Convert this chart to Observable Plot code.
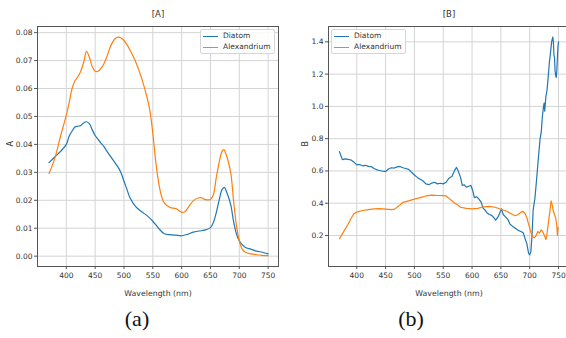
<!DOCTYPE html>
<html><head><meta charset="utf-8">
<script src="https://cdn.jsdelivr.net/npm/d3@7"></script>
<script src="https://cdn.jsdelivr.net/npm/@observablehq/plot@0.6"></script>
<style>
html,body{margin:0;padding:0;background:#fff;}
#wrap{position:relative;width:566px;height:338px;overflow:hidden;background:#fff;font-family:"DejaVu Sans",sans-serif;}
.panel{position:absolute;top:0;height:300px;overflow:hidden;}
.legend{position:absolute;border:1px solid #d6d6d6;border-radius:2px;background:rgba(255,255,255,0.85);font-size:7.5px;color:#333;box-sizing:border-box;}
.legend .row{position:absolute;left:0;height:10px;line-height:10px;white-space:nowrap;}
.legend .sw{position:absolute;left:2px;top:5px;width:15px;border-top:1.5px solid;}
.legend .lab{position:absolute;left:22px;top:0;}
.cap{position:absolute;top:308px;font-family:"Liberation Serif",serif;font-size:22px;line-height:1;color:#111;transform:translateX(-50%);}
</style></head>
<body>
<div id="wrap">
  <div id="pa" class="panel" style="left:0;width:283px"></div>
  <div id="pb" class="panel" style="left:283px;width:286px"></div>
  <div class="legend" style="left:200px;top:29px;width:75px;height:25px">
    <div class="row" style="top:1px"><span class="sw" style="border-color:#1f77b4"></span><span class="lab">Diatom</span></div>
    <div class="row" style="top:12px"><span class="sw" style="border-color:#ff7f0e"></span><span class="lab">Alexandrium</span></div>
  </div>
  <div class="legend" style="left:331px;top:29px;width:75px;height:25px">
    <div class="row" style="top:1px"><span class="sw" style="border-color:#1f77b4"></span><span class="lab">Diatom</span></div>
    <div class="row" style="top:12px"><span class="sw" style="border-color:#ff7f0e"></span><span class="lab">Alexandrium</span></div>
  </div>
  <div class="cap" style="left:137px">(a)</div>
  <div class="cap" style="left:411px">(b)</div>
</div>
<script>
// ---- Data ----
const xTicks = [400, 450, 500, 550, 600, 650, 700, 750];
const yTicksA = [0, 0.01, 0.02, 0.03, 0.04, 0.05, 0.06, 0.07, 0.08];
const yTicksB = [0.2, 0.4, 0.6, 0.8, 1.0, 1.2, 1.4];

const wlDiatomA = [370,380,390,400,405,410,415,420,425,430,435,440,445,450,455,460,465,470,480,490,495,500,505,510,520,530,540,550,560,570,580,590,600,610,620,630,640,650,655,660,665,670,674,678,685,690,695,700,710,720,730,740,750];
const diatomA = [0.0335,0.0355,0.0375,0.0400,0.0430,0.0448,0.0462,0.0465,0.0468,0.0477,0.0481,0.0474,0.0452,0.0432,0.0418,0.0405,0.0393,0.0377,0.0347,0.0318,0.0298,0.0268,0.0240,0.0211,0.0178,0.0160,0.0145,0.0125,0.0100,0.0080,0.0077,0.0075,0.0073,0.0078,0.0086,0.0090,0.0093,0.0102,0.0120,0.0155,0.0200,0.0238,0.0246,0.0230,0.0185,0.0125,0.0080,0.0055,0.0032,0.0025,0.0018,0.0014,0.0008];

const wlAlexA = [370,380,390,400,405,410,415,420,425,430,435,440,445,450,455,460,465,470,475,480,485,490,495,500,505,510,520,530,540,545,550,555,560,565,570,580,590,600,605,610,620,630,635,640,650,655,660,665,670,673,677,685,690,695,700,705,710,720,730,740,750];
const alexA = [0.0296,0.0350,0.0430,0.0505,0.0550,0.0600,0.0628,0.0642,0.0662,0.0693,0.0733,0.0712,0.0678,0.0662,0.0662,0.0672,0.0688,0.0712,0.0742,0.0765,0.0779,0.0784,0.0781,0.0772,0.0758,0.0739,0.0697,0.0641,0.0568,0.0520,0.0440,0.0340,0.0265,0.0215,0.0190,0.0174,0.0170,0.0157,0.0158,0.0170,0.0198,0.0209,0.0209,0.0203,0.0203,0.0220,0.0280,0.0335,0.0375,0.0381,0.0365,0.0300,0.0200,0.0110,0.0055,0.0025,0.0015,0.0008,0.0005,0.0003,0.0002];

const wlDiatomB = [370,372,375,380,385,390,395,400,405,410,415,420,425,430,435,440,445,450,455,460,465,470,475,480,485,490,495,500,505,510,515,520,525,530,535,540,545,550,555,560,565,570,573,576,580,583,586,590,594,598,601,604,608,612,616,619,622,626,630,634,638,641,645,648,651,654,658,662,666,670,675,680,685,689,692,695,698,700,702,704,706,709,712,715,718,720,722,724,725,726,728,730,732,734,736,738,740,741,742,743,744,745,746,747,748,749,750];
const diatomB = [0.72,0.70,0.67,0.675,0.672,0.668,0.655,0.638,0.64,0.632,0.635,0.628,0.627,0.615,0.607,0.603,0.598,0.597,0.612,0.62,0.618,0.625,0.628,0.62,0.615,0.61,0.592,0.575,0.56,0.548,0.538,0.52,0.515,0.525,0.53,0.52,0.524,0.52,0.53,0.555,0.565,0.605,0.622,0.60,0.56,0.51,0.515,0.50,0.505,0.51,0.48,0.435,0.44,0.425,0.405,0.37,0.36,0.34,0.33,0.325,0.31,0.295,0.315,0.34,0.365,0.33,0.315,0.30,0.27,0.258,0.245,0.232,0.225,0.215,0.18,0.15,0.09,0.08,0.10,0.20,0.36,0.43,0.55,0.68,0.80,0.84,0.94,1.00,1.02,0.97,1.06,1.10,1.18,1.27,1.33,1.40,1.43,1.40,1.32,1.30,1.22,1.19,1.18,1.22,1.30,1.37,1.40];

const wlAlexB = [370,375,380,385,390,395,400,410,420,430,440,450,460,465,470,475,480,490,500,510,520,530,540,550,555,560,565,570,575,580,590,600,610,620,630,640,650,660,670,675,680,685,688,692,695,698,702,705,708,711,714,717,720,723,726,728,730,732,735,737,739,741,743,745,747,748,749];
const alexB = [0.18,0.21,0.24,0.27,0.305,0.335,0.345,0.355,0.36,0.365,0.366,0.363,0.36,0.362,0.375,0.39,0.405,0.415,0.425,0.435,0.445,0.45,0.448,0.447,0.445,0.43,0.415,0.40,0.39,0.375,0.368,0.365,0.368,0.378,0.38,0.375,0.363,0.35,0.33,0.322,0.33,0.345,0.35,0.335,0.31,0.27,0.22,0.195,0.185,0.20,0.225,0.215,0.235,0.22,0.195,0.175,0.21,0.27,0.35,0.415,0.39,0.35,0.33,0.31,0.26,0.20,0.25];

const pairs = (xs, ys) => xs.map((x, i) => ({x, y: ys[i]}));

function panel(o) {
  return Plot.plot({
    width: o.width, height: 300,
    marginLeft: o.mL, marginRight: o.mR, marginTop: 26, marginBottom: 34,
    style: {fontFamily: "DejaVu Sans", fontSize: "7.5px", color: "#333", background: "transparent"},
    x: {domain: o.xDomain},
    y: {domain: o.yDomain},
    marks: [
      Plot.gridX({ticks: xTicks, stroke: "#d4d4d4", strokeOpacity: 1, strokeWidth: 1}),
      Plot.gridY({ticks: o.yTicks, stroke: "#d4d4d4", strokeOpacity: 1, strokeWidth: 1}),
      Plot.frame({stroke: "#555", strokeWidth: 1}),
      Plot.axisX({ticks: xTicks, tickSize: 3, tickPadding: 3, label: null, stroke: "#555"}),
      Plot.axisY({ticks: o.yTicks, tickFormat: o.yFmt, tickSize: 3, tickPadding: 2, label: null, stroke: "#555"}),
      Plot.line(pairs(o.wlD, o.vD), {x: "x", y: "y", stroke: "#1f77b4", strokeWidth: 1.2, curve: o.curve}),
      Plot.line(pairs(o.wlX, o.vX), {x: "x", y: "y", stroke: "#ff7f0e", strokeWidth: 1.2, curve: o.curve}),
      Plot.text([o.title], {text: d => d, frameAnchor: "top", dy: -16, fontSize: 8.5}),
      Plot.text(["Wavelength (nm)"], {text: d => d, frameAnchor: "bottom", lineAnchor: "bottom", dy: 29, fontSize: 7.8}),
      Plot.text([o.ylab], {text: d => d, frameAnchor: "left", dx: o.ylabDx, rotate: -90, fontSize: 8})
    ]
  });
}

document.getElementById("pa").append(panel({
  width: 283, mL: 37, mR: 5, xDomain: [350, 768], yDomain: [-0.0037, 0.0822],
  yTicks: yTicksA, yFmt: d3.format(".2f"),
  wlD: wlDiatomA, vD: diatomA, wlX: wlAlexA, vX: alexA, curve: "catmull-rom",
  title: "[A]", ylab: "A", ylabDx: -27
}));
document.getElementById("pb").append(panel({
  width: 286, mL: 45, mR: 0, xDomain: [351, 769], yDomain: [0.008, 1.495],
  yTicks: yTicksB, yFmt: d3.format(".1f"),
  wlD: wlDiatomB, vD: diatomB, wlX: wlAlexB, vX: alexB, curve: "linear",
  title: "[B]", ylab: "B", ylabDx: -23
}));
</script>
</body></html>
